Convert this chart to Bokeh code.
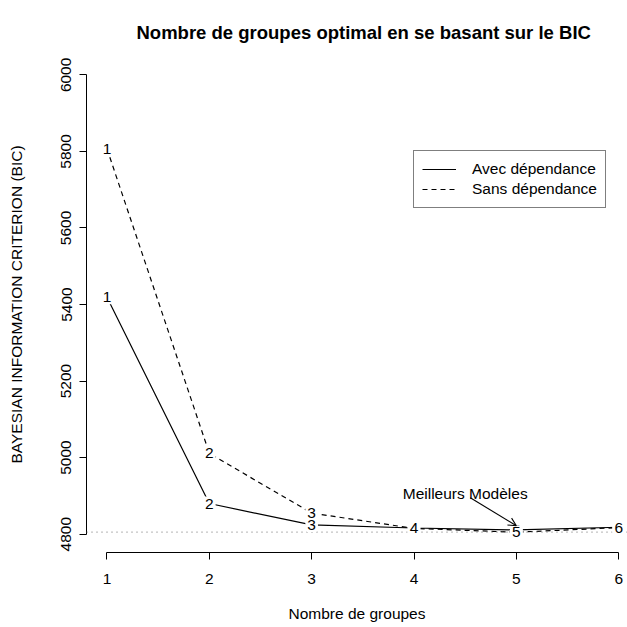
from bokeh.plotting import figure
from bokeh.models import (ColumnDataSource, LabelSet, Label, Arrow, OpenHead, Span,
                          Legend, LegendItem, FixedTicker, Range1d, Title)
from bokeh.core.properties import value
from bokeh.embed import file_html
from bokeh.resources import INLINE

# BIC by number of groups, with and without dependence
groupes = [1, 2, 3, 4, 5, 6]
bic_avec = [5419, 4880, 4824, 4816, 4811, 4818]
bic_sans = [5807, 5011, 4855, 4815, 4805, 4817]
etiquettes = ["1", "2", "3", "4", "5", "6"]
x_ticks = [1, 2, 3, 4, 5, 6]
y_ticks = [4800, 5000, 5200, 5400, 5600, 5800, 6000]
bic_min = min(bic_sans + bic_avec)

FONT = "Liberation Sans"
Y0, Y1 = 4752, 6048

p = figure(width=627, height=627, output_backend="svg", toolbar_location=None,
           x_range=Range1d(0.8, 6.086), y_range=Range1d(Y0, Y1),
           min_border_left=86, min_border_right=0, min_border_top=56, min_border_bottom=75)
p.title = Title(text="Nombre de groupes optimal en se basant sur le BIC", align="left",
                offset=50, text_font=FONT, text_font_size="18.5px", text_font_style="bold",
                text_color="black", standoff=27)
p.grid.visible = False
p.outline_line_color = None
p.background_fill_color = "white"
p.border_fill_color = "white"

for ax in (p.xaxis[0], p.yaxis[0]):
    ax.major_tick_out = 7
    ax.major_tick_in = 0
    ax.minor_tick_line_color = None
    ax.axis_line_color = "black"
    ax.major_tick_line_color = "black"
    ax.major_label_text_font = FONT
    ax.major_label_text_font_size = "15.5px"
    ax.major_label_text_color = "black"
    ax.axis_label_text_font = FONT
    ax.axis_label_text_font_size = "15.5px"
    ax.axis_label_text_font_style = "normal"
    ax.axis_label_text_color = "black"

p.xaxis.ticker = FixedTicker(ticks=x_ticks)
p.xaxis.bounds = (1, 6)
p.xaxis.axis_label = "Nombre de groupes"
p.xaxis.major_label_standoff = 14
p.xaxis.axis_label_standoff = 18

p.yaxis.ticker = FixedTicker(ticks=y_ticks)
p.yaxis.bounds = (4800, 6000)
p.yaxis.axis_label = "BAYESIAN INFORMATION CRITERION (BIC)"
p.yaxis.major_label_orientation = "vertical"
p.yaxis.major_label_standoff = 8
p.yaxis.axis_label_standoff = 34

# reference line at the best BIC
p.add_layout(Span(location=bic_min, dimension="width", line_color="#888888",
                  line_dash="1 4", line_width=1.3))

src_avec = ColumnDataSource(dict(x=groupes, y=bic_avec, t=etiquettes))
src_sans = ColumnDataSource(dict(x=groupes, y=bic_sans, t=etiquettes))

r_avec = p.line("x", "y", source=src_avec, line_color="black", line_width=1.2)
r_sans = p.line("x", "y", source=src_sans, line_color="black", line_width=1.2,
                line_dash="5 4")

# group numbers as point symbols, with a small white gap around each
for src in (src_avec, src_sans):
    p.add_layout(LabelSet(x="x", y="y", text="t", source=src, text_align="center",
                          text_baseline="middle", text_font=value(FONT),
                          text_font_size=value("15.5px"), text_color=value("black"),
                          background_fill_color=value("white"),
                          border_line_color=value("white"), border_line_width=value(4)))

p.add_layout(Label(x=4.5, y=4905, text="Meilleurs Modèles", text_align="center",
                   text_baseline="middle", text_font=FONT, text_font_size="15.5px",
                   text_color="black"))
p.add_layout(Arrow(x_start=4.55, y_start=4895, x_end=5.0, y_end=4822,
                   line_color="black", line_width=1.1,
                   end=OpenHead(size=8, line_color="black", line_width=1.1)))

legend = Legend(items=[LegendItem(label="Avec dépendance", renderers=[r_avec]),
                       LegendItem(label="Sans dépendance", renderers=[r_sans])],
                location=(327, 344), border_line_color="black", border_line_width=1,
                background_fill_color="white", background_fill_alpha=1,
                label_text_font=FONT, label_text_font_size="15.5px",
                label_text_color="black", glyph_width=34, glyph_height=20,
                label_height=20, label_standoff=16, padding=8, spacing=0, margin=0)
p.add_layout(legend)

open("out.html", "w").write(file_html(p, INLINE))
